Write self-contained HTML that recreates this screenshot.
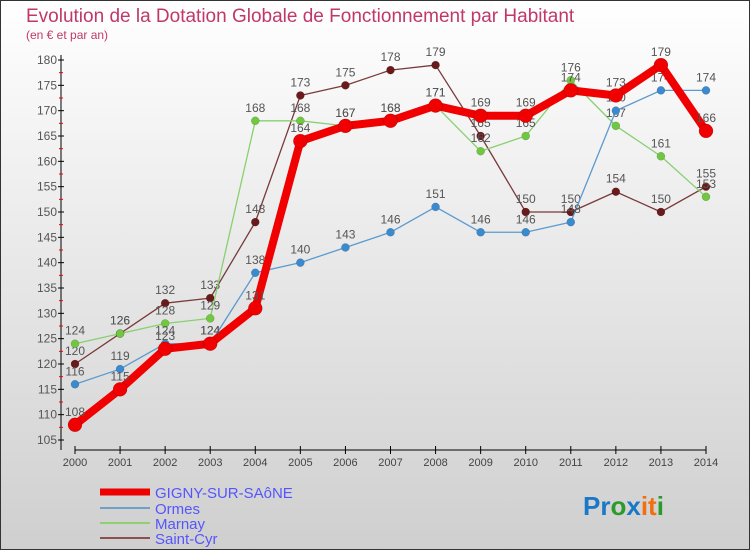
<!DOCTYPE html>
<html><head><meta charset="utf-8"><style>
body{margin:0;}
svg text{font-family:"Liberation Sans",sans-serif;}
</style></head><body>
<svg id="c" width="750" height="550" xmlns="http://www.w3.org/2000/svg">
<defs><linearGradient id="bg" x1="0" y1="0" x2="0" y2="1"><stop offset="0" stop-color="#ffffff"/><stop offset="1" stop-color="#cfcfcf"/></linearGradient></defs>
<rect x="0.5" y="0.5" width="749" height="549" fill="url(#bg)" stroke="#333"/>
<text x="26" y="22" font-size="19" fill="#c0386a">Evolution de la Dotation Globale de Fonctionnement par Habitant</text>
<text x="26" y="39" font-size="12" fill="#c0386a">(en € et par an)</text>
<g id="axes"></g><g id="series"></g>
<g>
<line x1="100" y1="492" x2="150" y2="492" stroke="#e00" stroke-width="7"/>
<text x="155" y="498" font-size="15" fill="#5555ff">GIGNY-SUR-SAôNE</text>
<line x1="100" y1="508" x2="150" y2="508" stroke="#6fa0c8" stroke-width="2"/>
<text x="155" y="514" font-size="15" fill="#5555ff">Ormes</text>
<line x1="100" y1="523" x2="150" y2="523" stroke="#8fd070" stroke-width="2"/>
<text x="155" y="529" font-size="15" fill="#5555ff">Marnay</text>
<line x1="100" y1="538" x2="150" y2="538" stroke="#8a5050" stroke-width="2"/>
<text x="155" y="544" font-size="15" fill="#5555ff">Saint-Cyr</text>
</g>
<text x="583" y="515" font-size="26" font-weight="bold"><tspan fill="#1a78c8">Pr</tspan><tspan fill="#2a9a2a">o</tspan><tspan fill="#1a78c8">x</tspan><tspan fill="#f07010">it</tspan><tspan fill="#2a9a2a">i</tspan></text>
</svg>
<script>
const years=[2000,2001,2002,2003,2004,2005,2006,2007,2008,2009,2010,2011,2012,2013,2014];
const gigny=[108,115,123,124,131,164,167,168,171,169,169,174,173,179,166];
const ormes=[116,119,124,124,138,140,143,146,151,146,146,148,170,174,174];
const marnay=[124,126,128,129,168,168,167,168,171,162,165,176,167,161,153];
const saintCyr=[120,126,132,133,148,173,175,178,179,165,150,150,154,150,155];
const yTicks=[105,110,115,120,125,130,135,140,145,150,155,160,165,170,175,180];
const NS="http://www.w3.org/2000/svg";
const X=i=>75+i*(706-75)/(years.length-1);
const Y=v=>440-(v-105)*(380/75);
function mk(t,a,p){const e=document.createElementNS(NS,t);for(const k in a)e.setAttribute(k,a[k]);p.appendChild(e);return e;}
const ax=document.getElementById('axes');
let l=mk('line',{x1:61,y1:55,x2:61,y2:450,stroke:'#000'},ax);


l=mk('line',{x1:75,y1:450,x2:706,y2:450,stroke:'#000'},ax);


yTicks.forEach(v=>{
 mk('line',{x1:58,y1:Y(v),x2:64,y2:Y(v),stroke:'#000'},ax);
 if(v<180) mk('line',{x1:59,y1:Y(v+2.5),x2:63,y2:Y(v+2.5),stroke:'#e00'},ax);
 const t=mk('text',{x:57,y:Y(v)+4,'font-size':12,fill:'#555','text-anchor':'end'},ax);t.textContent=v;
 
 
});
years.forEach((y,i)=>{
 mk('line',{x1:X(i),y1:446,x2:X(i),y2:454,stroke:'#000'},ax);
 const t=mk('text',{x:X(i),y:466,'font-size':11,fill:'#444','text-anchor':'middle'},ax);t.textContent=y;
 
 
});
const sg=document.getElementById('series');
function draw(data,name,col,dot,w,r){
 const g=mk('g',{},sg);
 
 
 const p=mk('polyline',{points:data.map((v,i)=>X(i)+','+Y(v)).join(' '),fill:'none',stroke:col,'stroke-width':w,'stroke-linejoin':'round'},g);
 
 
 data.forEach((v,i)=>{
  const c=mk('circle',{cx:X(i),cy:Y(v),r:r,fill:dot,stroke:'rgba(0,0,0,0.25)','stroke-width':0.5},g);
  
  
  const t=mk('text',{x:X(i),y:Y(v)-9,'font-size':12,fill:'#555','text-anchor':'middle'},g);t.textContent=v;
  
  
 });
}
draw(saintCyr,'saint-cyr','#7a3a3a','#6a1a1a',1.3,4);
draw(marnay,'marnay','#88d070','#70c840',1.3,4);
draw(ormes,'ormes','#5a9ad0','#3a8ad0',1.3,4);
draw(gigny,'gigny','#f00000','#f00000',8,7);
</script>
</body></html>
